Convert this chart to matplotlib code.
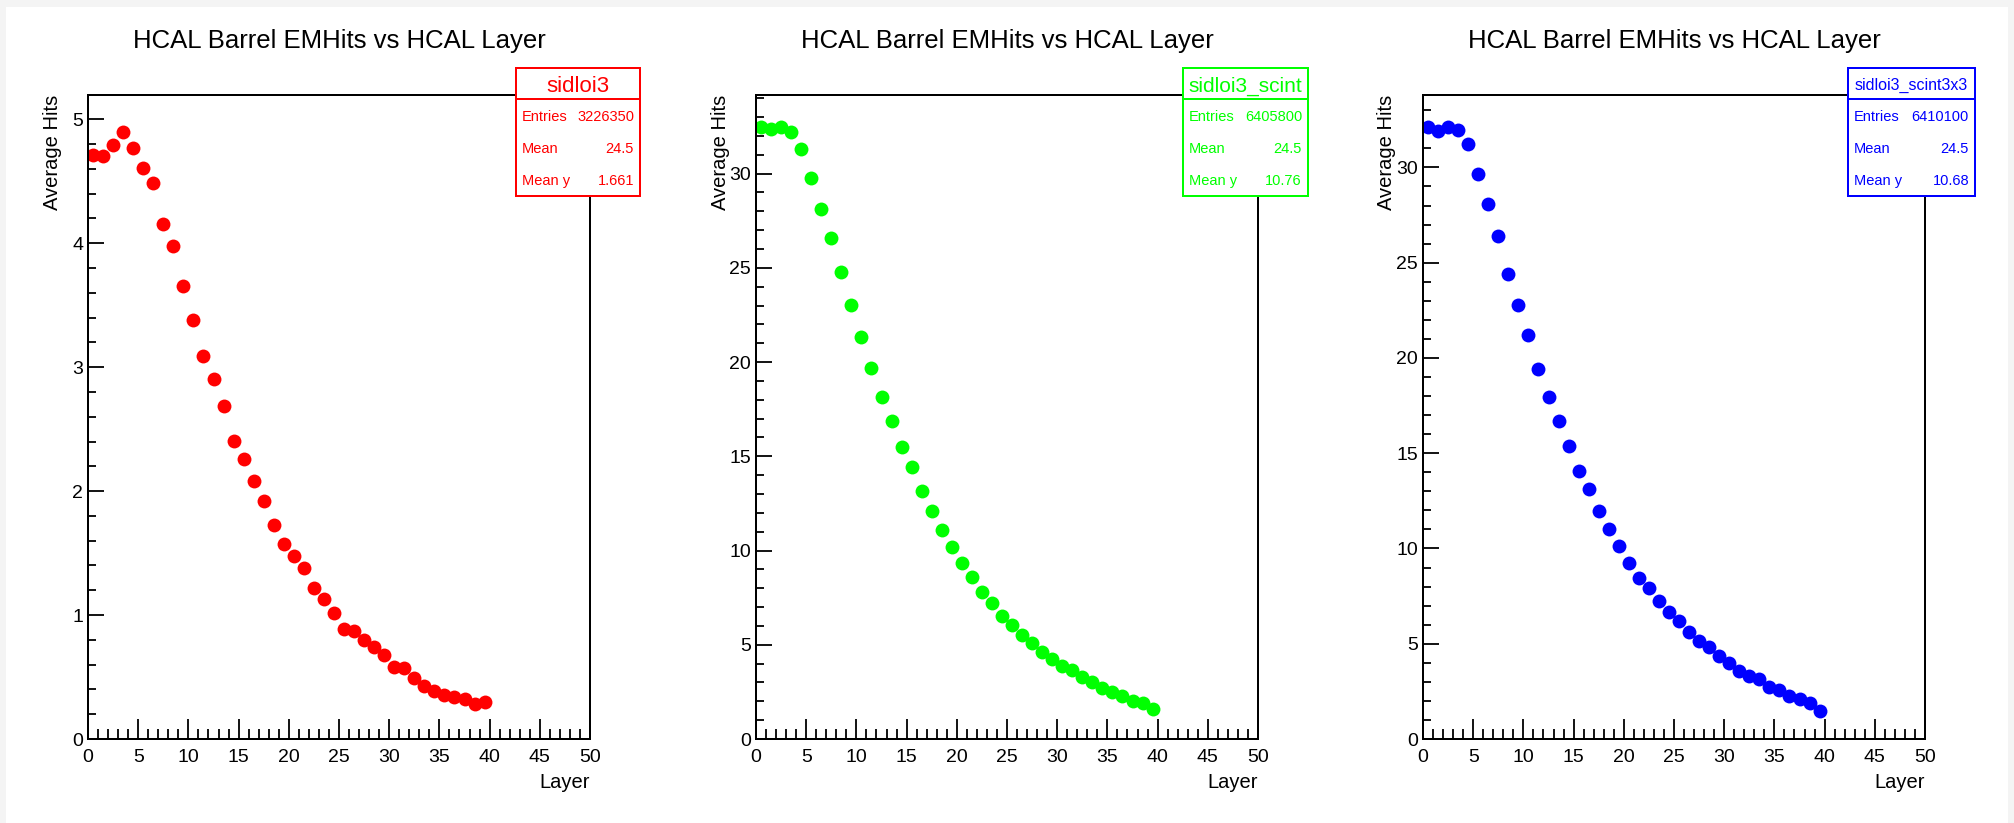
import matplotlib
matplotlib.use('Agg')
import matplotlib.pyplot as plt
from matplotlib.patches import Rectangle
from matplotlib.lines import Line2D
from matplotlib.ticker import MultipleLocator, FormatStrFormatter

plt.rcParams['font.family'] = ['Liberation Sans', 'DejaVu Sans']

# ---------------- data ----------------
layer = [0.5, 1.5, 2.5, 3.5, 4.5, 5.5, 6.5, 7.5, 8.5, 9.5,
         10.5, 11.5, 12.5, 13.5, 14.5, 15.5, 16.5, 17.5, 18.5, 19.5,
         20.5, 21.5, 22.5, 23.5, 24.5, 25.5, 26.5, 27.5, 28.5, 29.5,
         30.5, 31.5, 32.5, 33.5, 34.5, 35.5, 36.5, 37.5, 38.5, 39.5]

hits_sidloi3 = [4.71, 4.70, 4.79, 4.895, 4.77, 4.605, 4.49, 4.154, 3.98, 3.658,
                3.379, 3.089, 2.906, 2.69, 2.407, 2.26, 2.083, 1.917, 1.729, 1.576,
                1.477, 1.383, 1.22, 1.129, 1.013, 0.885, 0.871, 0.799, 0.74, 0.678,
                0.584, 0.576, 0.496, 0.424, 0.391, 0.357, 0.335, 0.322, 0.284, 0.300]

hits_scint = [32.46, 32.39, 32.48, 32.20, 31.28, 29.77, 28.14, 26.56, 24.79, 23.03,
              21.35, 19.70, 18.16, 16.85, 15.51, 14.45, 13.16, 12.08, 11.09, 10.21,
              9.34, 8.58, 7.82, 7.24, 6.51, 6.07, 5.54, 5.08, 4.62, 4.26,
              3.86, 3.64, 3.27, 3.04, 2.72, 2.51, 2.30, 2.03, 1.91, 1.59]

hits_scint3x3 = [32.13, 31.93, 32.13, 31.95, 31.25, 29.67, 28.07, 26.40, 24.43, 22.79,
                 21.19, 19.40, 17.96, 16.68, 15.38, 14.09, 13.11, 11.97, 11.00, 10.11,
                 9.25, 8.43, 7.92, 7.22, 6.69, 6.17, 5.64, 5.12, 4.82, 4.33,
                 3.98, 3.59, 3.29, 3.17, 2.75, 2.56, 2.24, 2.10, 1.89, 1.49]

names = ['sidloi3', 'sidloi3_scint', 'sidloi3_scint3x3']
entries = ['3226350', '6405800', '6410100']
means = ['24.5', '24.5', '24.5']
mean_ys = ['1.661', '10.76', '10.68']
stat_labels = ['Entries', 'Mean', 'Mean y']
title = 'HCAL Barrel EMHits vs HCAL Layer'
xlabel = 'Layer'
ylabel = 'Average Hits'

# ---------------- styles ----------------
colors = ['#ff0000', '#00ff00', '#0000ff']
ymaxs = [5.196, 34.17, 33.8]
ymajor = [1, 5, 5]
yminor = [0.2, 1, 1]
header_size = [16, 15, 11.5]
header_base = [92.5, 92.0, 90.0]
box_w = [124, 125, 127]

W, H = 2014, 823
fig = plt.figure(figsize=(W / 100, H / 100), dpi=100)
fig.patch.set_facecolor('#f4f4f4')


def fx(px):
    return px / W


def fy(py):
    return 1 - py / H


fig.add_artist(Rectangle((fx(6), fy(823)), fx(2008) - fx(6), fy(7) - fy(823),
                         transform=fig.transFigure, facecolor='white',
                         edgecolor='none', zorder=-10))

lefts = [88, 756, 1423]
top, bottom, width = 95, 739, 502
datasets = [hits_sidloi3, hits_scint, hits_scint3x3]
lw = 1.44

for i in range(3):
    L = lefts[i]
    ax = fig.add_axes([fx(L), fy(bottom), width / W, (bottom - top) / H])
    ax.set_facecolor('white')
    ax.plot(layer, datasets[i], 'o', color=colors[i], ms=10, mec='none')
    ax.set_xlim(0, 50)
    ax.set_ylim(0, ymaxs[i])
    ax.xaxis.set_major_locator(MultipleLocator(5))
    ax.xaxis.set_minor_locator(MultipleLocator(1))
    ax.yaxis.set_major_locator(MultipleLocator(ymajor[i]))
    ax.yaxis.set_minor_locator(MultipleLocator(yminor[i]))
    ax.xaxis.set_major_formatter(FormatStrFormatter('%g'))
    ax.yaxis.set_major_formatter(FormatStrFormatter('%g'))
    ax.tick_params(axis='x', which='major', direction='in', length=14.4, width=1.3,
                   labelsize=14, pad=7, top=False)
    ax.tick_params(axis='x', which='minor', direction='in', length=7.2, width=1.3, top=False)
    ax.tick_params(axis='y', which='major', direction='in', length=11.5, width=1.3,
                   labelsize=14, pad=3.5, right=False)
    ax.tick_params(axis='y', which='minor', direction='in', length=5.8, width=1.3, right=False)
    for s in ax.spines.values():
        s.set_linewidth(lw)

    fig.text(fx(L + width / 2), fy(48), title, ha='center', va='baseline', fontsize=18.5)
    fig.text(fx(L + width), fy(788), xlabel, ha='right', va='baseline', fontsize=14.5)
    fig.text(fx(L - 36), fy(top), ylabel, rotation=90, ha='center', va='top', fontsize=14.5)

    # stats box
    R = L + width + 50
    bw = box_w[i]
    bl = R - bw
    fig.add_artist(Rectangle((fx(bl), fy(196)), bw / W, (196 - 68) / H,
                             transform=fig.transFigure, facecolor='white',
                             edgecolor=colors[i], lw=lw, zorder=5))
    fig.add_artist(Line2D([fx(bl), fx(R)], [fy(99), fy(99)], transform=fig.transFigure,
                          color=colors[i], lw=lw, zorder=6))
    fig.text(fx((bl + R) / 2), fy(header_base[i]), names[i], ha='center', va='baseline',
             fontsize=header_size[i], color=colors[i], zorder=7)
    vals = [entries[i], means[i], mean_ys[i]]
    for j in range(3):
        yb = 99 + 32.3 * (j + 0.5) + 5.5
        fig.text(fx(bl + 6), fy(yb), stat_labels[j], ha='left', va='baseline',
                 fontsize=10.5, color=colors[i], zorder=7)
        fig.text(fx(R - 6), fy(yb), vals[j], ha='right', va='baseline',
                 fontsize=10.5, color=colors[i], zorder=7)

fig.savefig('out.png', dpi=100, facecolor=fig.get_facecolor())
